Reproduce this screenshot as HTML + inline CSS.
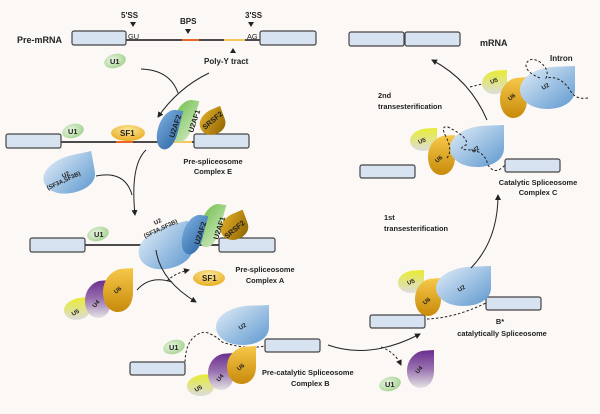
<!DOCTYPE html>
<html><head><meta charset="utf-8"><style>
html,body{margin:0;padding:0;background:#fcf8f5;}
svg{display:block;font-family:"Liberation Sans",Arial,sans-serif;font-weight:bold;}
.ex{fill:#d8e3f1;stroke:#444;stroke-width:1.2;}
.t{font-size:8px;fill:#222;}
.s{font-size:7.4px;fill:#222;}
.ln{stroke:#111;stroke-width:1.6;fill:none;}
.ar{stroke:#222;stroke-width:1;fill:none;}
.da{stroke:#222;stroke-width:1;fill:none;stroke-dasharray:2.5,2;}
</style></head><body>
<svg width="600" height="414" viewBox="0 0 600 414">
<defs>
<linearGradient id="bl" x1="0" y1="0" x2="1" y2="1"><stop offset="0" stop-color="#e3eef8"/><stop offset="1" stop-color="#5d98cf"/></linearGradient>
<linearGradient id="bd" x1="0" y1="0" x2="1" y2="1"><stop offset="0" stop-color="#7fb0e0"/><stop offset="1" stop-color="#2f6aa8"/></linearGradient>
<linearGradient id="gr" x1="0" y1="0" x2="1" y2="1"><stop offset="0" stop-color="#6fbf4a"/><stop offset="1" stop-color="#cfe8c0"/></linearGradient>
<linearGradient id="or" x1="0" y1="0" x2="0" y2="1"><stop offset="0" stop-color="#f7c84a"/><stop offset="1" stop-color="#c88a0a"/></linearGradient>
<linearGradient id="sr" x1="0" y1="0" x2="1" y2="1"><stop offset="0" stop-color="#eab52a"/><stop offset="1" stop-color="#8a6000"/></linearGradient>
<linearGradient id="pu" x1="0" y1="0" x2="0" y2="1"><stop offset="0" stop-color="#6a2d8e"/><stop offset="0.5" stop-color="#9a72b0"/><stop offset="1" stop-color="#e4e4e4"/></linearGradient>
<linearGradient id="ye" x1="0" y1="0" x2="0" y2="1"><stop offset="0" stop-color="#e8ec30"/><stop offset="1" stop-color="#dcdcdc"/></linearGradient>
<radialGradient id="u1" cx="0.4" cy="0.4" r="0.7"><stop offset="0" stop-color="#eaf5e2"/><stop offset="1" stop-color="#9fd08a"/></radialGradient>
<radialGradient id="sf" cx="0.5" cy="0.3" r="0.7"><stop offset="0" stop-color="#fbe79a"/><stop offset="1" stop-color="#e8ae22"/></radialGradient>
<path id="drop" d="M100,0 L100,55 C100,85 75,100 50,100 C20,100 0,80 0,55 C0,25 30,5 60,2 Z"/>
<marker id="ah" markerWidth="6" markerHeight="6" refX="5" refY="3" orient="auto" markerUnits="userSpaceOnUse"><path d="M0,0 L6,3 L0,6 Z" fill="#222"/></marker>
</defs>

<!-- Pre-mRNA -->
<text x="17" y="43" style="font-size:9px" fill="#222">Pre-mRNA</text>
<line x1="125" y1="40" x2="260" y2="40" class="ln"/>
<line x1="182" y1="40" x2="199" y2="40" stroke="#e8662a" stroke-width="2"/>
<line x1="224" y1="40" x2="245" y2="40" stroke="#f6c65a" stroke-width="2"/>
<rect x="72" y="31" width="54" height="14" rx="2" class="ex"/>
<rect x="260" y="31" width="56" height="14" rx="2" class="ex"/>
<text x="128" y="39" class="s" style="font-weight:normal">GU</text>
<text x="247" y="39" class="s" style="font-weight:normal">AG</text>
<text x="121" y="18" class="t">5'SS</text><path d="M130,22 L136,22 L133,27Z" fill="#222"/>
<text x="180" y="24" class="t">BPS</text><path d="M185,29 L191,29 L188,34Z" fill="#222"/>
<text x="245" y="18" class="t">3'SS</text><path d="M248,22 L254,22 L251,27Z" fill="#222"/>
<path d="M230,53 L236,53 L233,48Z" fill="#222"/>
<text x="204" y="64" class="t">Poly-Y tract</text>
<ellipse cx="115" cy="61" rx="11" ry="7" fill="url(#u1)" transform="rotate(-15 115 61)"/>
<text x="110" y="64" class="s">U1</text>
<path d="M141,69 Q170,70 178,93" class="ar"/>
<path d="M209,73 Q178,88 158,117" class="ar" marker-end="url(#ah)"/>

<!-- Complex E -->
<line x1="60" y1="142" x2="194" y2="142" class="ln"/>
<line x1="116" y1="142" x2="133" y2="142" stroke="#e8662a" stroke-width="2"/>
<line x1="170" y1="142" x2="192" y2="142" stroke="#f6c65a" stroke-width="2"/>
<rect x="6" y="134" width="55" height="14" rx="2" class="ex"/>
<rect x="194" y="134" width="55" height="14" rx="2" class="ex"/>
<ellipse cx="73" cy="131" rx="11" ry="7" fill="url(#u1)" transform="rotate(-15 73 131)"/>
<text x="68" y="134" class="s">U1</text>
<ellipse cx="128" cy="133" rx="17" ry="8" fill="url(#sf)"/>
<text x="120" y="136" class="t">SF1</text>
<g transform="translate(199,110) rotate(-20 12 12)"><use href="#drop" transform="scale(0.26,0.25)" fill="url(#sr)"/></g>
<g transform="translate(180,96) rotate(15)"><use href="#drop" transform="scale(0.2,0.45)" fill="url(#gr)"/></g>
<g transform="translate(164,106) rotate(15)"><use href="#drop" transform="scale(0.2,0.42)" fill="url(#bd)"/></g>
<text transform="translate(174,138) rotate(-72)" class="s">U2AF2</text>
<text transform="translate(193,133) rotate(-72)" class="s">U2AF1</text>
<text transform="translate(205,130) rotate(-40)" class="s">SRSF2</text>
<text x="213" y="164" class="s" text-anchor="middle">Pre-spliceosome</text>
<text x="213" y="174" class="s" text-anchor="middle">Complex E</text>
<g transform="translate(40,160) rotate(-10)"><use href="#drop" transform="scale(0.52,0.38)" fill="url(#bl)"/></g>
<text transform="translate(63,178) rotate(-25)" class="s" style="font-size:6px">U2</text>
<text transform="translate(48,190) rotate(-25)" class="s" style="font-size:6px">(SF3A,SF3B)</text>
<path d="M96,176 Q125,170 132,195" class="ar"/>
<path d="M146,150 Q130,165 135,215" class="ar" marker-end="url(#ah)"/>

<!-- Complex A -->
<line x1="85" y1="245" x2="220" y2="245" class="ln"/>
<line x1="141" y1="245" x2="157" y2="245" stroke="#e8662a" stroke-width="2"/>
<rect x="30" y="238" width="55" height="14" rx="2" class="ex"/>
<rect x="219" y="238" width="56" height="14" rx="2" class="ex"/>
<ellipse cx="98" cy="234" rx="11" ry="7" fill="url(#u1)" transform="rotate(-15 98 234)"/>
<text x="94" y="237" class="s">U1</text>
<g transform="translate(134,232) rotate(-12)"><use href="#drop" transform="scale(0.55,0.43)" fill="url(#bl)"/></g>
<text transform="translate(155,225) rotate(-25)" class="s" style="font-size:6px">U2</text>
<text transform="translate(145,238) rotate(-25)" class="s" style="font-size:6px">(SF3A,SF3B)</text>
<g transform="translate(220,214) rotate(-20 13 13)"><use href="#drop" transform="scale(0.28,0.26)" fill="url(#sr)"/></g>
<g transform="translate(207,200) rotate(15)"><use href="#drop" transform="scale(0.2,0.46)" fill="url(#gr)"/></g>
<g transform="translate(189,211) rotate(15)"><use href="#drop" transform="scale(0.2,0.42)" fill="url(#bd)"/></g>
<text transform="translate(199,245) rotate(-72)" class="s">U2AF2</text>
<text transform="translate(218,240) rotate(-72)" class="s">U2AF1</text>
<text transform="translate(227,239) rotate(-40)" class="s">SRSF2</text>
<path d="M156,250 Q160,280 196,302" class="ar" marker-end="url(#ah)"/>
<path d="M167,281 Q175,273 189,270" class="da" marker-end="url(#ah)"/>
<ellipse cx="209" cy="278" rx="16" ry="8" fill="url(#sf)"/>
<text x="202" y="281" class="t">SF1</text>
<text x="265" y="272" class="s" text-anchor="middle">Pre-spliceosome</text>
<text x="265" y="283" class="s" text-anchor="middle">Complex A</text>
<!-- U4/U5/U6 free -->
<g transform="translate(63,299) rotate(-5)"><use href="#drop" transform="scale(0.26,0.22)" fill="url(#ye)"/></g>
<g transform="translate(85,280)"><use href="#drop" transform="scale(0.26,0.38)" fill="url(#pu)"/></g>
<g transform="translate(103,268)"><use href="#drop" transform="scale(0.3,0.44)" fill="url(#or)"/></g>
<text transform="translate(73,316) rotate(-30)" class="s" style="font-size:6px">U5</text>
<text transform="translate(95,308) rotate(-50)" class="s" style="font-size:6px">U4</text>
<text transform="translate(116,294) rotate(-40)" class="s" style="font-size:6px">U6</text>
<path d="M137,290 Q150,275 172,282" class="ar"/>

<!-- Complex B -->
<rect x="130" y="362" width="55" height="13" rx="2" class="ex"/>
<rect x="265" y="339" width="55" height="13" rx="2" class="ex"/>
<path d="M185,362 Q186,335 205,332 Q215,335 222,342 Q245,350 265,346" class="da"/>
<ellipse cx="174" cy="347" rx="11" ry="7" fill="url(#u1)" transform="rotate(-15 174 347)"/>
<text x="169" y="350" class="s">U1</text>
<g transform="translate(187,374)"><use href="#drop" transform="scale(0.27,0.22)" fill="url(#ye)"/></g>
<g transform="translate(208,353)"><use href="#drop" transform="scale(0.26,0.37)" fill="url(#pu)"/></g>
<g transform="translate(227,346)"><use href="#drop" transform="scale(0.29,0.38)" fill="url(#or)"/></g>
<g transform="translate(216,305)"><use href="#drop" transform="scale(0.53,0.4)" fill="url(#bl)"/></g>
<text transform="translate(240,330) rotate(-30)" class="s" style="font-size:6px">U2</text>
<text transform="translate(196,392) rotate(-30)" class="s" style="font-size:6px">U5</text>
<text transform="translate(219,382) rotate(-50)" class="s" style="font-size:6px">U4</text>
<text transform="translate(239,371) rotate(-40)" class="s" style="font-size:6px">U6</text>
<text x="262" y="375" class="s">Pre-catalytic Spliceosome</text>
<text x="291" y="386" class="s">Complex B</text>
<path d="M328,345 Q370,360 420,334" class="ar" marker-end="url(#ah)"/>
<path d="M381,347 Q395,352 401,365" class="da" marker-end="url(#ah)"/>
<ellipse cx="390" cy="384" rx="11" ry="7" fill="url(#u1)" transform="rotate(-15 390 384)"/>
<text x="385" y="387" class="s">U1</text>
<g transform="translate(407,350)"><use href="#drop" transform="scale(0.27,0.38)" fill="url(#pu)"/></g>
<text transform="translate(418,374) rotate(-50)" class="s" style="font-size:6px">U4</text>

<!-- B* -->
<rect x="370" y="315" width="55" height="13" rx="2" class="ex"/>
<rect x="486" y="297" width="55" height="13" rx="2" class="ex"/>
<path d="M427,319 Q455,318 486,303" class="da"/>
<g transform="translate(398,270)"><use href="#drop" transform="scale(0.26,0.23)" fill="url(#ye)"/></g>
<g transform="translate(415,278)"><use href="#drop" transform="scale(0.26,0.38)" fill="url(#or)"/></g>
<g transform="translate(436,266)"><use href="#drop" transform="scale(0.55,0.4)" fill="url(#bl)"/></g>
<text transform="translate(408,285) rotate(-20)" class="s" style="font-size:6px">U5</text>
<text transform="translate(425,305) rotate(-40)" class="s" style="font-size:6px">U6</text>
<text transform="translate(459,292) rotate(-30)" class="s" style="font-size:6px">U2</text>
<text x="500" y="324" class="s" text-anchor="middle">B*</text>
<text x="502" y="336" class="s" text-anchor="middle">catalytically Spliceosome</text>
<path d="M471,268 Q498,240 498,195" class="ar" marker-end="url(#ah)"/>
<text x="384" y="220" class="s">1st</text>
<text x="384" y="231" class="s">transesterification</text>

<!-- Complex C -->
<rect x="360" y="165" width="55" height="13" rx="2" class="ex"/>
<rect x="505" y="159" width="55" height="13" rx="2" class="ex"/>
<g transform="translate(410,128)"><use href="#drop" transform="scale(0.27,0.23)" fill="url(#ye)"/></g>
<g transform="translate(428,135)"><use href="#drop" transform="scale(0.27,0.4)" fill="url(#or)"/></g>
<g transform="translate(450,125)"><use href="#drop" transform="scale(0.54,0.42)" fill="url(#bl)"/></g>
<path d="M447,158 Q453,150 446,137 Q440,125 448,127 Q470,138 466,145 Q455,150 472,150 Q485,152 488,165 Q495,176 505,165" class="da"/>
<text transform="translate(419,144) rotate(-20)" class="s" style="font-size:6px">U5</text>
<text transform="translate(437,163) rotate(-40)" class="s" style="font-size:6px">U6</text>
<text transform="translate(473,153) rotate(-30)" class="s" style="font-size:6px">U2</text>
<text x="538" y="185" class="s" text-anchor="middle">Catalytic Spliceosome</text>
<text x="538" y="195" class="s" text-anchor="middle">Complex C</text>
<path d="M487,120 Q470,80 432,60" class="ar" marker-end="url(#ah)"/>
<text x="378" y="98" class="s">2nd</text>
<text x="378" y="109" class="s">transesterification</text>

<!-- mRNA -->
<rect x="349" y="32" width="55" height="14" rx="2" class="ex"/>
<rect x="405" y="32" width="55" height="14" rx="2" class="ex"/>
<text x="480" y="46" class="t" style="font-size:9px">mRNA</text>
<text x="550" y="61" class="t">Intron</text>
<g transform="translate(482,70)"><use href="#drop" transform="scale(0.25,0.24)" fill="url(#ye)"/></g>
<g transform="translate(500,77)"><use href="#drop" transform="scale(0.27,0.41)" fill="url(#or)"/></g>
<g transform="translate(520,66)"><use href="#drop" transform="scale(0.55,0.43)" fill="url(#bl)"/></g>
<path d="M470,87 L482,84 M540,78 Q525,72 526,64 Q530,56 540,62 Q550,70 546,78 Q560,75 570,90 Q575,100 588,98" class="da"/>
<text transform="translate(491,84) rotate(-20)" class="s" style="font-size:6px">U5</text>
<text transform="translate(510,101) rotate(-40)" class="s" style="font-size:6px">U6</text>
<text transform="translate(543,90) rotate(-30)" class="s" style="font-size:6px">U2</text>
</svg>
</body></html>
